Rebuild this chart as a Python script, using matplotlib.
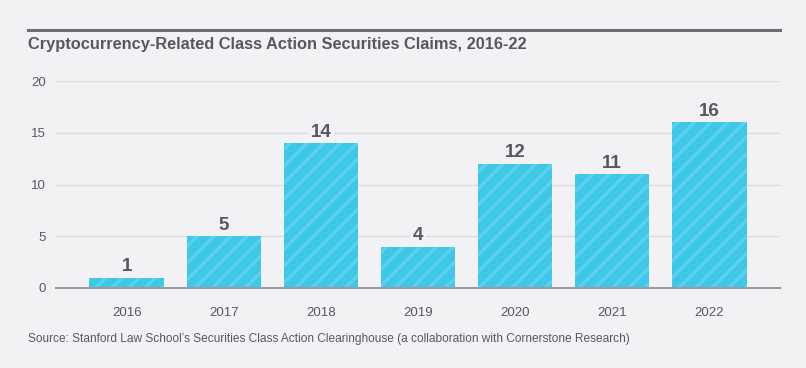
import matplotlib.pyplot as plt
import matplotlib.lines as mlines

years = ["2016", "2017", "2018", "2019", "2020", "2021", "2022"]
claims = [1, 5, 14, 4, 12, 11, 16]
y_ticks = [0, 5, 10, 15, 20]

bg = '#f2f2f4'
bar_color = '#3ec8e8'
hatch_color = '#5ad1ed'
text_color = '#55595f'

plt.rcParams['font.family'] = ['Liberation Sans', 'DejaVu Sans']
plt.rcParams['hatch.linewidth'] = 2.5

fig = plt.figure(figsize=(8.06, 3.68), dpi=100)
fig.patch.set_facecolor(bg)
ax = fig.add_axes([56 / 806, 1 - 288 / 368, (780 - 56) / 806, (288 - 81) / 368])
ax.set_facecolor(bg)

x = range(len(years))
ax.bar(x, claims, width=0.77, color=bar_color, edgecolor='none', zorder=2)
ax.bar(x, claims, width=0.77, facecolor='none', edgecolor=hatch_color,
       hatch='//', linewidth=0, zorder=3)

# value labels sit under the bars so their bg box only hides gridlines
for xi, v in zip(x, claims):
    ax.text(xi, v + 0.25, str(v), ha='center', va='bottom', fontsize=13.5,
            fontweight='bold', color=text_color, zorder=1.5,
            bbox=dict(facecolor=bg, edgecolor='none', pad=2))

ax.set_xlim(-0.73, 6.73)
ax.set_ylim(0, 20)
ax.set_yticks(y_ticks)
ax.set_xticks(list(x))
ax.set_xticklabels(years)
ax.grid(axis='y', color='#dcdcdf', linewidth=1, zorder=0)
ax.set_axisbelow(True)
for s in ['top', 'right', 'left']:
    ax.spines[s].set_visible(False)
ax.spines['bottom'].set_color('#9a9ca0')
ax.spines['bottom'].set_linewidth(1.5)
ax.spines['bottom'].set_zorder(5)
ax.tick_params(axis='both', length=0, labelsize=9.5, labelcolor=text_color)
ax.tick_params(axis='x', pad=14)
ax.tick_params(axis='y', pad=7)

# top rule and title
fig.add_artist(mlines.Line2D([28 / 806, 780 / 806], [1 - 30 / 368, 1 - 30 / 368],
                             color='#6b6e73', linewidth=2.2))
fig.text(28 / 806, 1 - 45 / 368, "Cryptocurrency-Related Class Action Securities Claims, 2016-22",
         fontsize=11.8, fontweight='bold', color=text_color, va='center', ha='left')
fig.text(28 / 806, 1 - 339 / 368,
         "Source: Stanford Law School\u2019s Securities Class Action Clearinghouse (a collaboration with Cornerstone Research)",
         fontsize=8.6, color=text_color, va='center', ha='left')

fig.savefig('out.png', dpi=100, facecolor=bg)
